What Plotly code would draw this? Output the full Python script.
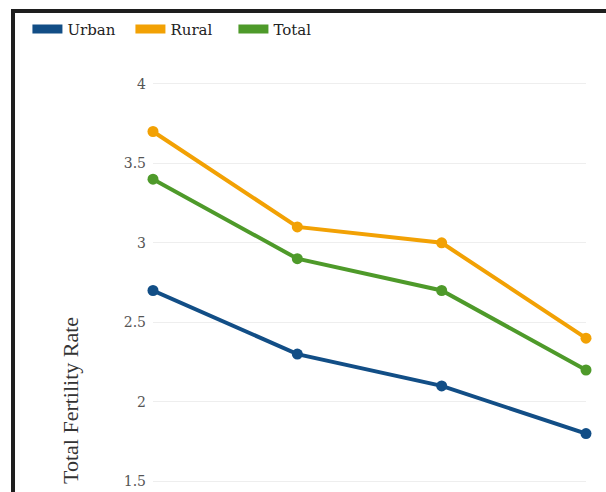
import plotly.graph_objects as go

categories = ["Round 1", "Round 2", "Round 3", "Round 4"]
urban = [2.7, 2.3, 2.1, 1.8]
rural = [3.7, 3.1, 3.0, 2.4]
total = [3.4, 2.9, 2.7, 2.2]

series = [("Urban", urban, "#124E86"), ("Rural", rural, "#F2A104"), ("Total", total, "#4E9A2A")]

fig = go.Figure()
for name, vals, col in series:
    fig.add_trace(go.Scatter(x=categories, y=vals, mode="lines+markers", name=name,
                             line=dict(color=col, width=4), marker=dict(color=col, size=11),
                             cliponaxis=False, showlegend=False))
for name, vals, col in series:
    fig.add_trace(go.Scatter(x=[None], y=[None], mode="lines", name=name,
                             line=dict(color=col, width=9), showlegend=True))

fig.update_layout(
    width=606, height=492,
    margin=dict(l=153, r=20, t=52, b=1),
    paper_bgcolor="white", plot_bgcolor="white",
    font=dict(family="DejaVu Serif", color="#444"),
    legend=dict(orientation="h", x=-0.29, y=1.052, xanchor="left", yanchor="middle",
                font=dict(size=15, color="#222", family="DejaVu Serif"),
                itemwidth=30, entrywidth=58, entrywidthmode="pixels",
                tracegroupgap=0, bgcolor="rgba(0,0,0,0)"),
    xaxis=dict(range=[0, 3], showticklabels=False, showgrid=False, zeroline=False, showline=False),
    yaxis=dict(range=[1.439, 4.2], tickvals=[1.5, 2, 2.5, 3, 3.5, 4], ticktext=["1.5", "2", "2.5", "3", "3.5", "4"],
               showgrid=True, gridcolor="#eeeeee", gridwidth=1, zeroline=False, showline=False,
               tickfont=dict(size=14, color="#555", family="DejaVu Serif"), ticks="", ticklabelstandoff=6),
    shapes=[dict(type="rect", xref="paper", yref="paper", x0=-0.3233, x1=1.3, y0=-0.2, y1=1.0934,
                 line=dict(color="#1e1e1e", width=4), fillcolor="rgba(0,0,0,0)", layer="above")],
    annotations=[dict(text="Total Fertility Rate", xref="paper", yref="paper", x=-0.192, y=0.207,
                      xanchor="center", yanchor="middle",
                      textangle=-90, showarrow=False, font=dict(size=22, color="#333", family="Liberation Serif"))],
)

fig.write_html("out.html")
